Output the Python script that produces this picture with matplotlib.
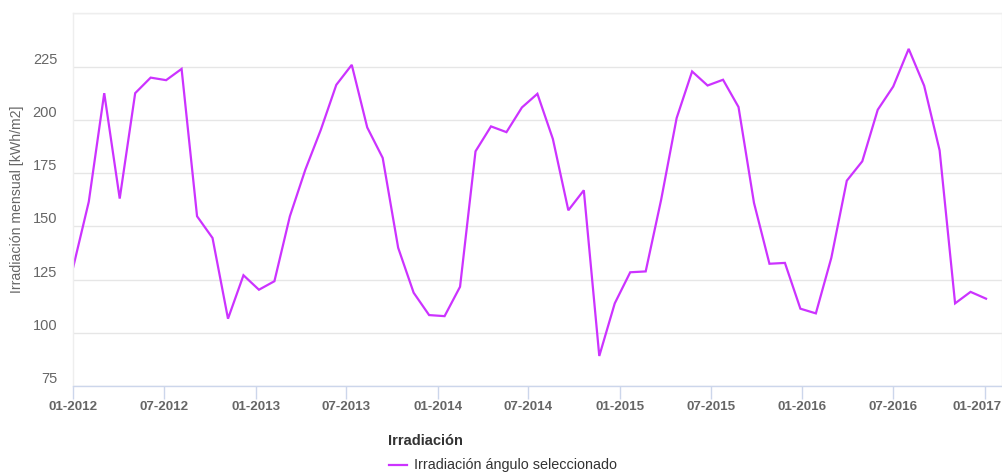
import numpy as np
import pandas as pd
import matplotlib
matplotlib.use("Agg")
import matplotlib.pyplot as plt
import matplotlib.dates as mdates
import matplotlib.transforms as mtransforms
from matplotlib.lines import Line2D

# datos mensuales (intervalo de 31 dias desde 01-2012)
irradiacion = [131, 161.5, 212.5, 163, 212.5, 219.8, 218.6, 223.9, 154.7, 144.5,
               106.6, 127, 120.2, 124.2, 154.7, 176.6, 195.3, 216.4, 225.8, 196.4,
               182.1, 139.9, 118.8, 108.3, 107.8, 121.6, 185.2, 196.9, 194.2, 205.8,
               212.2, 191, 157.5, 166.9, 89.1, 113.8, 128.4, 128.8, 162.5, 200.8,
               222.7, 216.1, 218.8, 206, 161, 132.4, 132.8, 111.3, 109.1, 135.2,
               171.4, 180.5, 204.7, 215.6, 233.3, 216, 185.6, 113.8, 119.2, 116]
fechas = pd.date_range("2012-01-01", periods=len(irradiacion), freq="31D")
y_ticks = [75, 100, 125, 150, 175, 200, 225]

plt.rcParams['font.family'] = ['Liberation Sans', 'DejaVu Sans']

fig = plt.figure(figsize=(10.03, 4.72), dpi=100)
ax = fig.add_axes([73.3 / 1003, 1 - 386 / 472, (1002 - 73.3) / 1003, (386 - 13.3) / 472])

ax.plot(fechas, irradiacion, color='#cc33ff', linewidth=1.6, solid_joinstyle='miter')

ax.set_ylim(75, 250)
ax.set_xlim(pd.Timestamp("2012-01-01"), pd.Timestamp("2012-01-01") + pd.Timedelta(days=1861))

ax.set_yticks(y_ticks + [250])
ax.set_yticklabels([str(v) for v in y_ticks] + [''])
ax.yaxis.grid(True, color='#e6e6e6', linewidth=1)
ax.set_axisbelow(True)
ax.tick_params(axis='y', length=0, pad=11.5, labelsize=10.5, labelcolor='#666666')
for lbl in ax.get_yticklabels():
    lbl.set_verticalalignment('bottom')

ax.xaxis.set_major_locator(mdates.MonthLocator(bymonth=[1, 7]))
ax.xaxis.set_major_formatter(mdates.DateFormatter('%m-%Y'))
ax.tick_params(axis='x', length=9, width=1, color='#ccd6eb', pad=2,
               labelsize=9.6, labelcolor='#666666')
xlabels = ax.get_xticklabels()
for lbl in xlabels:
    lbl.set_fontweight('bold')
# la ultima etiqueta se desplaza para quedar dentro
xlabels[-1].set_transform(xlabels[-1].get_transform() +
                          mtransforms.ScaledTranslation(-8 / 100, 0, fig.dpi_scale_trans))

for s in ['left', 'top', 'right']:
    ax.spines[s].set_color('#eeeeee')
    ax.spines[s].set_linewidth(1)
ax.spines['bottom'].set_color('#ccd6eb')
ax.spines['bottom'].set_linewidth(1)

ax.set_ylabel('Irradiación mensual [kWh/m2]', color='#666666', fontsize=10.2)
ax.yaxis.set_label_coords((24 - 73.3) / 928.7, 0.5)

# leyenda
fig.text(388 / 1003, 1 - 441 / 472, 'Irradiación', fontsize=10.5, fontweight='bold',
         color='#333333', ha='left', va='center')
fig.add_artist(Line2D([389 / 1003, 407 / 1003], [1 - 465 / 472, 1 - 465 / 472],
                      color='#cc33ff', linewidth=1.6))
fig.text(414 / 1003, 1 - 465 / 472, 'Irradiación ángulo seleccionado', fontsize=10.4,
         color='#333333', ha='left', va='center')

fig.savefig('out.png', dpi=100)
